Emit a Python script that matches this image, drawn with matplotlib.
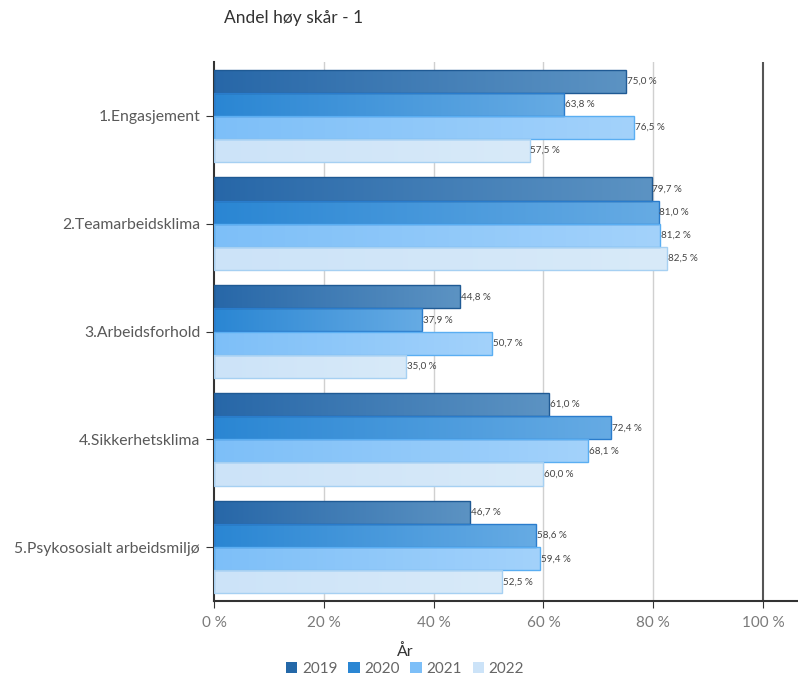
import matplotlib.pyplot as plt
import numpy as np
from matplotlib.colors import LinearSegmentedColormap
from matplotlib.patches import Patch

plt.rcParams['font.family'] = ['Lato', 'DejaVu Sans']

categories = ["1.Engasjement", "2.Teamarbeidsklima", "3.Arbeidsforhold",
              "4.Sikkerhetsklima", "5.Psykososialt arbeidsmiljø"]
years = ["2019", "2020", "2021", "2022"]
v2019 = [75.0, 79.7, 44.8, 61.0, 46.7]
v2020 = [63.8, 81.0, 37.9, 72.4, 58.6]
v2021 = [76.5, 81.2, 50.7, 68.1, 59.4]
v2022 = [57.5, 82.5, 35.0, 60.0, 52.5]
series = [v2019, v2020, v2021, v2022]

grad = [("#2767a8", "#5c93c3"), ("#2a86d3", "#66abe4"),
        ("#7dbff8", "#a3d2fb"), ("#cce3f8", "#d8eaf9")]
edges = ["#1f5a94", "#2a7ccc", "#5aaef2", "#a6d0f2"]
legend_cols = ["#2468a8", "#2a86d3", "#7dbff8", "#cce3f8"]

fig = plt.figure(figsize=(7.98, 6.83), dpi=100)
ax = fig.add_axes([214 / 798, 1 - 601 / 683, (797 - 214) / 798, (601 - 62) / 683])

n = len(categories)
bh = 0.215
xmax = 106.2

for j, vals in enumerate(series):
    cmap = LinearSegmentedColormap.from_list("g", grad[j])
    for i, v in enumerate(vals):
        y = i + (j - 1.5) * bh
        bars = ax.barh(y, v, height=bh, color="none", edgecolor=edges[j],
                       linewidth=1.0, zorder=3)
        im = ax.imshow(np.linspace(0, 1, 256).reshape(1, -1), cmap=cmap,
                       aspect="auto", extent=[0, v, y + bh / 2, y - bh / 2],
                       zorder=2, interpolation="bilinear")
        im.set_clip_path(bars[0])
        ax.text(v + 0.15, y, f"{v:.1f} %".replace(".", ","), va="center",
                ha="left", fontsize=7.1, color="#444444", zorder=4)

ax.set_xlim(0, xmax)
ax.set_ylim(n - 0.5, -0.5)

ax.set_yticks(range(n))
ax.set_yticklabels(categories, fontsize=11.3, color="#595959")
ax.set_xticks([0, 20, 40, 60, 80, 100])
ax.set_xticklabels(["0 %", "20 %", "40 %", "60 %", "80 %", "100 %"],
                   fontsize=11, color="#7a7a7a")
for x in [20, 40, 60, 80]:
    ax.axvline(x, color="#d0d0d0", linewidth=1.0, zorder=1)
ax.axvline(100, color="#555555", linewidth=1.5, zorder=1)

for s in ["top", "right"]:
    ax.spines[s].set_visible(False)
ax.spines["left"].set_color("#333333")
ax.spines["left"].set_linewidth(1.5)
ax.spines["bottom"].set_color("#333333")
ax.spines["bottom"].set_linewidth(1.5)
ax.tick_params(axis="y", length=6, color="#333333", pad=4)
ax.tick_params(axis="x", length=5, color="#333333", pad=6)

fig.text(224 / 798, 1 - 18 / 683, "Andel høy skår - 1", fontsize=12.5,
         color="#333333", va="center", ha="left")

handles = [Patch(facecolor=c, edgecolor="none") for c in legend_cols]
leg = fig.legend(handles, years, loc="center", ncol=4, frameon=False,
                 bbox_to_anchor=(405 / 798, 1 - 660 / 683), title="År",
                 fontsize=11, title_fontsize=11.5, handlelength=0.75,
                 handleheight=0.75, handletextpad=0.3, columnspacing=0.7,
                 labelcolor="#666666", borderpad=0.1, labelspacing=0.2)
leg.get_title().set_color("#333333")

fig.savefig("out.png", dpi=100)
